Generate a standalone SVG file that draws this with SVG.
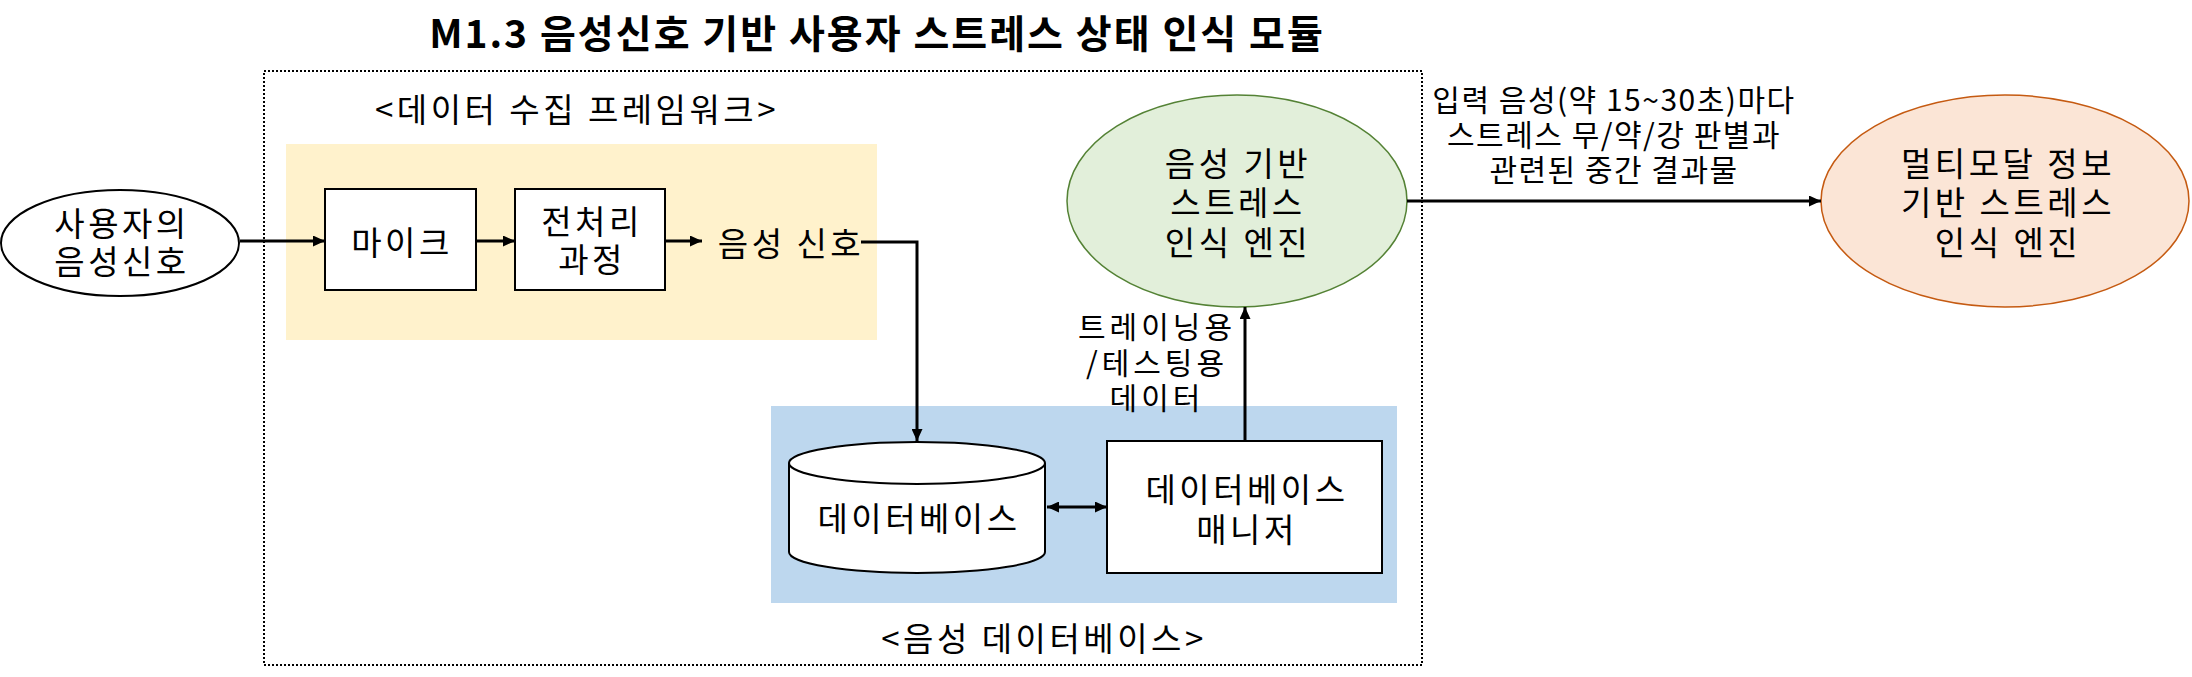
<svg xmlns="http://www.w3.org/2000/svg" width="2192" height="677" viewBox="0 0 2192 677">
<defs>
<style>
text{font-family:"Noto Sans CJK KR","Noto Sans",sans-serif;fill:#000;text-anchor:middle;dominant-baseline:central}
.n{font-size:33px;letter-spacing:3.5px}
.e{font-size:30px;letter-spacing:4px}
.r{font-size:30px;letter-spacing:1.5px}
.t{font-size:39px;font-weight:bold;letter-spacing:2px}
.box{fill:#fff;stroke:#000;stroke-width:2}
.ln{fill:none;stroke:#000;stroke-width:3}
</style>
<marker id="ah" markerUnits="userSpaceOnUse" markerWidth="12" markerHeight="11" refX="12" refY="5.5" orient="auto-start-reverse">
<path d="M0,0 L12,5.5 L0,11 Z" fill="#000"/>
</marker>
</defs>
<rect width="2192" height="677" fill="#fff"/>
<g id="title"><text class="t" x="877" y="31">M1.3 음성신호 기반 사용자 스트레스 상태 인식 모듈</text></g>
<g id="container"><rect x="264" y="71" width="1158" height="594" fill="none" stroke="#000" stroke-width="2" stroke-dasharray="2,2"/></g>
<g id="collect-framework">
<rect x="286" y="144" width="591" height="196" fill="#FFF2CC"/>
<text class="n" x="577" y="108">&lt;데이터 수집 프레임워크&gt;</text>
</g>
<g id="voice-db-group">
<rect x="771" y="406" width="626" height="197" fill="#BDD7EE"/>
<text class="n" x="1044" y="637">&lt;음성 데이터베이스&gt;</text>
</g>
<g id="user">
<ellipse cx="120" cy="243" rx="119" ry="53" class="box"/>
<text class="n" x="122" y="222">사용자의</text>
<text class="n" x="122" y="260">음성신호</text>
</g>
<g id="mic">
<rect x="325" y="189" width="151" height="101" class="box"/>
<text class="n" x="402" y="241">마이크</text>
</g>
<g id="preprocess">
<rect x="515" y="189" width="150" height="101" class="box"/>
<text class="n" x="592" y="220">전처리</text>
<text class="n" x="592" y="258">과정</text>
</g>
<g id="voice-signal"><text class="n" x="791" y="242">음성 신호</text></g>
<g id="database">
<path d="M789,463 L789,552 A128,21 0 0 0 1045,552 L1045,463 A128,21 0 0 0 789,463 Z" class="box"/>
<path d="M789,463 A128,21 0 0 0 1045,463" fill="none" stroke="#000" stroke-width="2"/>
<text class="n" x="919" y="517">데이터베이스</text>
</g>
<g id="db-manager">
<rect x="1107" y="441" width="275" height="132" class="box"/>
<text class="n" x="1247" y="488">데이터베이스</text>
<text class="n" x="1247" y="528">매니저</text>
</g>
<g id="voice-engine">
<ellipse cx="1237" cy="201" rx="170" ry="106" fill="#E2EFDA" stroke="#548235" stroke-width="1.5"/>
<text class="n" x="1238" y="162">음성 기반</text>
<text class="n" x="1238" y="201">스트레스</text>
<text class="n" x="1238" y="241">인식 엔진</text>
</g>
<g id="multimodal-engine">
<ellipse cx="2005" cy="201" rx="184" ry="106" fill="#FBE5D6" stroke="#C55A11" stroke-width="1.5"/>
<text class="n" x="2008" y="162">멀티모달 정보</text>
<text class="n" x="2008" y="201">기반 스트레스</text>
<text class="n" x="2008" y="241">인식 엔진</text>
</g>
<g id="connectors">
<line x1="240" y1="241" x2="325" y2="241" class="ln" marker-end="url(#ah)"/>
<line x1="476" y1="241" x2="515" y2="241" class="ln" marker-end="url(#ah)"/>
<line x1="665" y1="241" x2="702" y2="241" class="ln" marker-end="url(#ah)"/>
<polyline points="861,242 917,242 917,441" class="ln" marker-end="url(#ah)"/>
<line x1="1047" y1="507" x2="1107" y2="507" class="ln" marker-start="url(#ah)" marker-end="url(#ah)"/>
<line x1="1245" y1="441" x2="1245" y2="307" class="ln" marker-end="url(#ah)"/>
<line x1="1407" y1="201" x2="1821" y2="201" class="ln" marker-end="url(#ah)"/>
<g id="label-training">
<text class="e" x="1157" y="325">트레이닝용</text>
<text class="e" x="1157" y="361">/테스팅용</text>
<text class="e" x="1157" y="396">데이터</text>
</g>
<g id="label-result">
<text class="r" x="1614" y="98">입력 음성(약 15~30초)마다</text>
<text class="r" x="1614" y="133">스트레스 무/약/강 판별과</text>
<text class="r" x="1614" y="168">관련된 중간 결과물</text>
</g>
</g>
</svg>
